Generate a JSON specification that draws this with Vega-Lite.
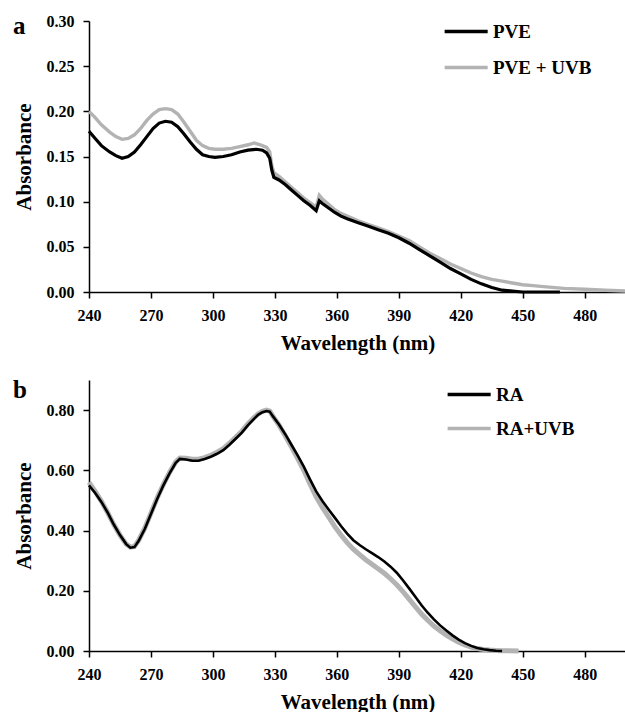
{
"$schema":"https://vega.github.io/schema/vega-lite/v6.json",
"padding":{"left":13,"top":13,"right":0,"bottom":0},
"background":"white",
"spacing":25,
"config":{
 "view":{"stroke":null},
 "axis":{"grid":false,"domainColor":"black","domainWidth":1.5,"tickColor":"black","tickWidth":1.5,"tickSize":6,
  "labelFont":"Liberation Serif","labelFontWeight":"bold","labelFontSize":16,"labelColor":"black","labelPadding":9,"labelFlush":false,
  "titleFont":"Liberation Serif","titleFontWeight":"bold","titleFontSize":21,"titleColor":"black"},
 "axisX":{"titlePadding":9},
 "axisY":{"titlePadding":12},
 "legend":{"orient":"none","title":null,"symbolType":"M-5,0H1","symbolSize":206,"symbolStrokeWidth":3.5,
  "labelFont":"Liberation Serif","labelFontWeight":"bold","labelFontSize":19,"labelColor":"black","labelOffset":3,"padding":0},
 "title":{"font":"Liberation Serif","fontWeight":"bold","fontSize":25,"color":"black","anchor":"start","frame":"bounds","offset":0}
},
"resolve":{"scale":{"color":"independent"},"legend":{"color":"independent"}},
"datasets":{
"a":[
{"wavelength":240,"absorbance":0.178,"series":"PVE"},{"wavelength":243,"absorbance":0.170,"series":"PVE"},{"wavelength":246,"absorbance":0.162,"series":"PVE"},{"wavelength":250,"absorbance":0.155,"series":"PVE"},{"wavelength":253,"absorbance":0.151,"series":"PVE"},{"wavelength":256,"absorbance":0.148,"series":"PVE"},{"wavelength":259,"absorbance":0.150,"series":"PVE"},{"wavelength":262,"absorbance":0.155,"series":"PVE"},{"wavelength":265,"absorbance":0.163,"series":"PVE"},{"wavelength":268,"absorbance":0.172,"series":"PVE"},{"wavelength":271,"absorbance":0.181,"series":"PVE"},{"wavelength":274,"absorbance":0.187,"series":"PVE"},{"wavelength":277,"absorbance":0.189,"series":"PVE"},{"wavelength":280,"absorbance":0.188,"series":"PVE"},{"wavelength":283,"absorbance":0.183,"series":"PVE"},{"wavelength":286,"absorbance":0.175,"series":"PVE"},{"wavelength":289,"absorbance":0.166,"series":"PVE"},{"wavelength":292,"absorbance":0.158,"series":"PVE"},{"wavelength":295,"absorbance":0.152,"series":"PVE"},{"wavelength":298,"absorbance":0.150,"series":"PVE"},{"wavelength":301,"absorbance":0.149,"series":"PVE"},{"wavelength":305,"absorbance":0.150,"series":"PVE"},{"wavelength":309,"absorbance":0.152,"series":"PVE"},{"wavelength":313,"absorbance":0.155,"series":"PVE"},{"wavelength":317,"absorbance":0.157,"series":"PVE"},{"wavelength":321,"absorbance":0.158,"series":"PVE"},{"wavelength":324,"absorbance":0.157,"series":"PVE"},{"wavelength":326,"absorbance":0.154,"series":"PVE"},{"wavelength":327.5,"absorbance":0.148,"series":"PVE"},{"wavelength":328.5,"absorbance":0.135,"series":"PVE"},{"wavelength":329.5,"absorbance":0.127,"series":"PVE"},{"wavelength":332,"absorbance":0.124,"series":"PVE"},{"wavelength":335,"absorbance":0.119,"series":"PVE"},{"wavelength":338,"absorbance":0.113,"series":"PVE"},{"wavelength":341,"absorbance":0.107,"series":"PVE"},{"wavelength":344,"absorbance":0.101,"series":"PVE"},{"wavelength":347,"absorbance":0.096,"series":"PVE"},{"wavelength":350,"absorbance":0.090,"series":"PVE"},{"wavelength":351.5,"absorbance":0.101,"series":"PVE"},{"wavelength":353,"absorbance":0.098,"series":"PVE"},{"wavelength":356,"absorbance":0.093,"series":"PVE"},{"wavelength":359,"absorbance":0.088,"series":"PVE"},{"wavelength":362,"absorbance":0.084,"series":"PVE"},{"wavelength":365,"absorbance":0.081,"series":"PVE"},{"wavelength":370,"absorbance":0.077,"series":"PVE"},{"wavelength":375,"absorbance":0.073,"series":"PVE"},{"wavelength":380,"absorbance":0.069,"series":"PVE"},{"wavelength":385,"absorbance":0.065,"series":"PVE"},{"wavelength":390,"absorbance":0.060,"series":"PVE"},{"wavelength":395,"absorbance":0.054,"series":"PVE"},{"wavelength":400,"absorbance":0.047,"series":"PVE"},{"wavelength":405,"absorbance":0.040,"series":"PVE"},{"wavelength":410,"absorbance":0.033,"series":"PVE"},{"wavelength":415,"absorbance":0.026,"series":"PVE"},{"wavelength":420,"absorbance":0.020,"series":"PVE"},{"wavelength":425,"absorbance":0.014,"series":"PVE"},{"wavelength":430,"absorbance":0.009,"series":"PVE"},{"wavelength":435,"absorbance":0.005,"series":"PVE"},{"wavelength":440,"absorbance":0.002,"series":"PVE"},{"wavelength":445,"absorbance":0.001,"series":"PVE"},{"wavelength":450,"absorbance":0.000,"series":"PVE"},{"wavelength":468,"absorbance":0.000,"series":"PVE"},
{"wavelength":240,"absorbance":0.200,"series":"PVE + UVB"},{"wavelength":243,"absorbance":0.193,"series":"PVE + UVB"},{"wavelength":246,"absorbance":0.185,"series":"PVE + UVB"},{"wavelength":250,"absorbance":0.177,"series":"PVE + UVB"},{"wavelength":253,"absorbance":0.172,"series":"PVE + UVB"},{"wavelength":256,"absorbance":0.169,"series":"PVE + UVB"},{"wavelength":259,"absorbance":0.170,"series":"PVE + UVB"},{"wavelength":262,"absorbance":0.174,"series":"PVE + UVB"},{"wavelength":265,"absorbance":0.181,"series":"PVE + UVB"},{"wavelength":268,"absorbance":0.190,"series":"PVE + UVB"},{"wavelength":271,"absorbance":0.197,"series":"PVE + UVB"},{"wavelength":274,"absorbance":0.202,"series":"PVE + UVB"},{"wavelength":277,"absorbance":0.203,"series":"PVE + UVB"},{"wavelength":280,"absorbance":0.202,"series":"PVE + UVB"},{"wavelength":283,"absorbance":0.197,"series":"PVE + UVB"},{"wavelength":286,"absorbance":0.188,"series":"PVE + UVB"},{"wavelength":289,"absorbance":0.178,"series":"PVE + UVB"},{"wavelength":292,"absorbance":0.168,"series":"PVE + UVB"},{"wavelength":295,"absorbance":0.162,"series":"PVE + UVB"},{"wavelength":298,"absorbance":0.159,"series":"PVE + UVB"},{"wavelength":301,"absorbance":0.158,"series":"PVE + UVB"},{"wavelength":305,"absorbance":0.158,"series":"PVE + UVB"},{"wavelength":309,"absorbance":0.159,"series":"PVE + UVB"},{"wavelength":313,"absorbance":0.161,"series":"PVE + UVB"},{"wavelength":317,"absorbance":0.163,"series":"PVE + UVB"},{"wavelength":320,"absorbance":0.165,"series":"PVE + UVB"},{"wavelength":323,"absorbance":0.163,"series":"PVE + UVB"},{"wavelength":326,"absorbance":0.160,"series":"PVE + UVB"},{"wavelength":327.5,"absorbance":0.155,"series":"PVE + UVB"},{"wavelength":328.5,"absorbance":0.140,"series":"PVE + UVB"},{"wavelength":329.5,"absorbance":0.132,"series":"PVE + UVB"},{"wavelength":332,"absorbance":0.128,"series":"PVE + UVB"},{"wavelength":335,"absorbance":0.122,"series":"PVE + UVB"},{"wavelength":338,"absorbance":0.116,"series":"PVE + UVB"},{"wavelength":341,"absorbance":0.110,"series":"PVE + UVB"},{"wavelength":344,"absorbance":0.104,"series":"PVE + UVB"},{"wavelength":347,"absorbance":0.099,"series":"PVE + UVB"},{"wavelength":350,"absorbance":0.094,"series":"PVE + UVB"},{"wavelength":351.5,"absorbance":0.107,"series":"PVE + UVB"},{"wavelength":353,"absorbance":0.103,"series":"PVE + UVB"},{"wavelength":356,"absorbance":0.097,"series":"PVE + UVB"},{"wavelength":359,"absorbance":0.091,"series":"PVE + UVB"},{"wavelength":362,"absorbance":0.087,"series":"PVE + UVB"},{"wavelength":365,"absorbance":0.084,"series":"PVE + UVB"},{"wavelength":370,"absorbance":0.079,"series":"PVE + UVB"},{"wavelength":375,"absorbance":0.075,"series":"PVE + UVB"},{"wavelength":380,"absorbance":0.071,"series":"PVE + UVB"},{"wavelength":385,"absorbance":0.067,"series":"PVE + UVB"},{"wavelength":390,"absorbance":0.062,"series":"PVE + UVB"},{"wavelength":395,"absorbance":0.057,"series":"PVE + UVB"},{"wavelength":400,"absorbance":0.050,"series":"PVE + UVB"},{"wavelength":405,"absorbance":0.043,"series":"PVE + UVB"},{"wavelength":410,"absorbance":0.037,"series":"PVE + UVB"},{"wavelength":415,"absorbance":0.031,"series":"PVE + UVB"},{"wavelength":420,"absorbance":0.026,"series":"PVE + UVB"},{"wavelength":425,"absorbance":0.021,"series":"PVE + UVB"},{"wavelength":430,"absorbance":0.017,"series":"PVE + UVB"},{"wavelength":435,"absorbance":0.014,"series":"PVE + UVB"},{"wavelength":440,"absorbance":0.012,"series":"PVE + UVB"},{"wavelength":445,"absorbance":0.010,"series":"PVE + UVB"},{"wavelength":450,"absorbance":0.008,"series":"PVE + UVB"},{"wavelength":455,"absorbance":0.007,"series":"PVE + UVB"},{"wavelength":460,"absorbance":0.006,"series":"PVE + UVB"},{"wavelength":470,"absorbance":0.004,"series":"PVE + UVB"},{"wavelength":480,"absorbance":0.003,"series":"PVE + UVB"},{"wavelength":490,"absorbance":0.002,"series":"PVE + UVB"},{"wavelength":500,"absorbance":0.001,"series":"PVE + UVB"}
],
"b":[
{"wavelength":240,"absorbance":0.550,"series":"RA"},{"wavelength":243,"absorbance":0.525,"series":"RA"},{"wavelength":246,"absorbance":0.495,"series":"RA"},{"wavelength":249,"absorbance":0.460,"series":"RA"},{"wavelength":252,"absorbance":0.420,"series":"RA"},{"wavelength":255,"absorbance":0.385,"series":"RA"},{"wavelength":258,"absorbance":0.355,"series":"RA"},{"wavelength":260,"absorbance":0.343,"series":"RA"},{"wavelength":262,"absorbance":0.345,"series":"RA"},{"wavelength":264,"absorbance":0.365,"series":"RA"},{"wavelength":267,"absorbance":0.405,"series":"RA"},{"wavelength":270,"absorbance":0.455,"series":"RA"},{"wavelength":273,"absorbance":0.505,"series":"RA"},{"wavelength":276,"absorbance":0.550,"series":"RA"},{"wavelength":279,"absorbance":0.590,"series":"RA"},{"wavelength":282,"absorbance":0.625,"series":"RA"},{"wavelength":284,"absorbance":0.638,"series":"RA"},{"wavelength":287,"absorbance":0.636,"series":"RA"},{"wavelength":290,"absorbance":0.632,"series":"RA"},{"wavelength":293,"absorbance":0.632,"series":"RA"},{"wavelength":296,"absorbance":0.638,"series":"RA"},{"wavelength":299,"absorbance":0.645,"series":"RA"},{"wavelength":302,"absorbance":0.655,"series":"RA"},{"wavelength":305,"absorbance":0.667,"series":"RA"},{"wavelength":308,"absorbance":0.685,"series":"RA"},{"wavelength":311,"absorbance":0.705,"series":"RA"},{"wavelength":314,"absorbance":0.725,"series":"RA"},{"wavelength":317,"absorbance":0.750,"series":"RA"},{"wavelength":320,"absorbance":0.772,"series":"RA"},{"wavelength":322,"absorbance":0.785,"series":"RA"},{"wavelength":324,"absorbance":0.793,"series":"RA"},{"wavelength":326,"absorbance":0.797,"series":"RA"},{"wavelength":327.5,"absorbance":0.795,"series":"RA"},{"wavelength":329,"absorbance":0.780,"series":"RA"},{"wavelength":332,"absorbance":0.752,"series":"RA"},{"wavelength":335,"absorbance":0.720,"series":"RA"},{"wavelength":338,"absorbance":0.685,"series":"RA"},{"wavelength":341,"absorbance":0.650,"series":"RA"},{"wavelength":344,"absorbance":0.612,"series":"RA"},{"wavelength":347,"absorbance":0.570,"series":"RA"},{"wavelength":350,"absorbance":0.530,"series":"RA"},{"wavelength":353,"absorbance":0.498,"series":"RA"},{"wavelength":356,"absorbance":0.470,"series":"RA"},{"wavelength":359,"absorbance":0.443,"series":"RA"},{"wavelength":362,"absorbance":0.415,"series":"RA"},{"wavelength":365,"absorbance":0.390,"series":"RA"},{"wavelength":368,"absorbance":0.368,"series":"RA"},{"wavelength":371,"absorbance":0.352,"series":"RA"},{"wavelength":374,"absorbance":0.338,"series":"RA"},{"wavelength":377,"absorbance":0.325,"series":"RA"},{"wavelength":380,"absorbance":0.312,"series":"RA"},{"wavelength":383,"absorbance":0.297,"series":"RA"},{"wavelength":386,"absorbance":0.280,"series":"RA"},{"wavelength":389,"absorbance":0.260,"series":"RA"},{"wavelength":392,"absorbance":0.235,"series":"RA"},{"wavelength":395,"absorbance":0.208,"series":"RA"},{"wavelength":398,"absorbance":0.180,"series":"RA"},{"wavelength":401,"absorbance":0.152,"series":"RA"},{"wavelength":404,"absorbance":0.127,"series":"RA"},{"wavelength":407,"absorbance":0.105,"series":"RA"},{"wavelength":410,"absorbance":0.085,"series":"RA"},{"wavelength":413,"absorbance":0.068,"series":"RA"},{"wavelength":416,"absorbance":0.052,"series":"RA"},{"wavelength":419,"absorbance":0.038,"series":"RA"},{"wavelength":422,"absorbance":0.026,"series":"RA"},{"wavelength":425,"absorbance":0.017,"series":"RA"},{"wavelength":428,"absorbance":0.010,"series":"RA"},{"wavelength":431,"absorbance":0.006,"series":"RA"},{"wavelength":434,"absorbance":0.003,"series":"RA"},{"wavelength":437,"absorbance":0.001,"series":"RA"},{"wavelength":440,"absorbance":0.000,"series":"RA"},
{"wavelength":240,"absorbance":0.560,"series":"RA+UVB"},{"wavelength":243,"absorbance":0.530,"series":"RA+UVB"},{"wavelength":246,"absorbance":0.497,"series":"RA+UVB"},{"wavelength":249,"absorbance":0.460,"series":"RA+UVB"},{"wavelength":252,"absorbance":0.420,"series":"RA+UVB"},{"wavelength":255,"absorbance":0.385,"series":"RA+UVB"},{"wavelength":258,"absorbance":0.355,"series":"RA+UVB"},{"wavelength":260,"absorbance":0.345,"series":"RA+UVB"},{"wavelength":262,"absorbance":0.347,"series":"RA+UVB"},{"wavelength":264,"absorbance":0.367,"series":"RA+UVB"},{"wavelength":267,"absorbance":0.408,"series":"RA+UVB"},{"wavelength":270,"absorbance":0.458,"series":"RA+UVB"},{"wavelength":273,"absorbance":0.508,"series":"RA+UVB"},{"wavelength":276,"absorbance":0.553,"series":"RA+UVB"},{"wavelength":279,"absorbance":0.593,"series":"RA+UVB"},{"wavelength":282,"absorbance":0.628,"series":"RA+UVB"},{"wavelength":284,"absorbance":0.641,"series":"RA+UVB"},{"wavelength":287,"absorbance":0.640,"series":"RA+UVB"},{"wavelength":290,"absorbance":0.637,"series":"RA+UVB"},{"wavelength":293,"absorbance":0.637,"series":"RA+UVB"},{"wavelength":296,"absorbance":0.642,"series":"RA+UVB"},{"wavelength":299,"absorbance":0.650,"series":"RA+UVB"},{"wavelength":302,"absorbance":0.660,"series":"RA+UVB"},{"wavelength":305,"absorbance":0.672,"series":"RA+UVB"},{"wavelength":308,"absorbance":0.690,"series":"RA+UVB"},{"wavelength":311,"absorbance":0.710,"series":"RA+UVB"},{"wavelength":314,"absorbance":0.730,"series":"RA+UVB"},{"wavelength":317,"absorbance":0.755,"series":"RA+UVB"},{"wavelength":320,"absorbance":0.776,"series":"RA+UVB"},{"wavelength":322,"absorbance":0.788,"series":"RA+UVB"},{"wavelength":324,"absorbance":0.796,"series":"RA+UVB"},{"wavelength":326,"absorbance":0.800,"series":"RA+UVB"},{"wavelength":327.5,"absorbance":0.797,"series":"RA+UVB"},{"wavelength":329,"absorbance":0.780,"series":"RA+UVB"},{"wavelength":332,"absorbance":0.750,"series":"RA+UVB"},{"wavelength":335,"absorbance":0.715,"series":"RA+UVB"},{"wavelength":338,"absorbance":0.678,"series":"RA+UVB"},{"wavelength":341,"absorbance":0.640,"series":"RA+UVB"},{"wavelength":344,"absorbance":0.600,"series":"RA+UVB"},{"wavelength":347,"absorbance":0.555,"series":"RA+UVB"},{"wavelength":350,"absorbance":0.512,"series":"RA+UVB"},{"wavelength":353,"absorbance":0.477,"series":"RA+UVB"},{"wavelength":356,"absorbance":0.445,"series":"RA+UVB"},{"wavelength":359,"absorbance":0.413,"series":"RA+UVB"},{"wavelength":362,"absorbance":0.385,"series":"RA+UVB"},{"wavelength":365,"absorbance":0.360,"series":"RA+UVB"},{"wavelength":368,"absorbance":0.338,"series":"RA+UVB"},{"wavelength":371,"absorbance":0.320,"series":"RA+UVB"},{"wavelength":374,"absorbance":0.303,"series":"RA+UVB"},{"wavelength":377,"absorbance":0.288,"series":"RA+UVB"},{"wavelength":380,"absorbance":0.273,"series":"RA+UVB"},{"wavelength":383,"absorbance":0.258,"series":"RA+UVB"},{"wavelength":386,"absorbance":0.240,"series":"RA+UVB"},{"wavelength":389,"absorbance":0.220,"series":"RA+UVB"},{"wavelength":392,"absorbance":0.197,"series":"RA+UVB"},{"wavelength":395,"absorbance":0.172,"series":"RA+UVB"},{"wavelength":398,"absorbance":0.147,"series":"RA+UVB"},{"wavelength":401,"absorbance":0.123,"series":"RA+UVB"},{"wavelength":404,"absorbance":0.102,"series":"RA+UVB"},{"wavelength":407,"absorbance":0.083,"series":"RA+UVB"},{"wavelength":410,"absorbance":0.067,"series":"RA+UVB"},{"wavelength":413,"absorbance":0.053,"series":"RA+UVB"},{"wavelength":416,"absorbance":0.040,"series":"RA+UVB"},{"wavelength":419,"absorbance":0.029,"series":"RA+UVB"},{"wavelength":422,"absorbance":0.020,"series":"RA+UVB"},{"wavelength":425,"absorbance":0.013,"series":"RA+UVB"},{"wavelength":428,"absorbance":0.008,"series":"RA+UVB"},{"wavelength":431,"absorbance":0.005,"series":"RA+UVB"},{"wavelength":434,"absorbance":0.003,"series":"RA+UVB"},{"wavelength":437,"absorbance":0.002,"series":"RA+UVB"},{"wavelength":440,"absorbance":0.001,"series":"RA+UVB"},{"wavelength":448,"absorbance":0.000,"series":"RA+UVB"}
]
},
"vconcat":[
{
 "width":537,"height":271,
 "title":{"text":"a","dy":30},
 "data":{"name":"a"},
 "encoding":{
  "x":{"field":"wavelength","type":"quantitative","scale":{"domain":[240,500],"nice":false,"zero":false},"axis":{"values":[240,270,300,330,360,390,420,450,480],"format":"d","title":"Wavelength (nm)"}},
  "y":{"field":"absorbance","type":"quantitative","scale":{"domain":[0,0.30],"nice":false},"axis":{"values":[0,0.05,0.10,0.15,0.20,0.25,0.30],"format":".2f","title":"Absorbance"}},
  "color":{"field":"series","type":"nominal","scale":{"domain":["PVE","PVE + UVB"],"range":["#000000","#b3b3b3"]},"legend":{"legendX":382,"legendY":1,"rowPadding":16}}
 },
 "layer":[
  {"transform":[{"filter":"datum.series == 'PVE + UVB'"}],"mark":{"type":"line","strokeWidth":3.4}},
  {"transform":[{"filter":"datum.series == 'PVE'"}],"mark":{"type":"line","strokeWidth":3.2}}
 ]
},
{
 "width":537,"height":271,
 "title":{"text":"b","dy":27},
 "data":{"name":"b"},
 "encoding":{
  "x":{"field":"wavelength","type":"quantitative","scale":{"domain":[240,500],"nice":false,"zero":false},"axis":{"values":[240,270,300,330,360,390,420,450,480],"format":"d","title":"Wavelength (nm)"}},
  "y":{"field":"absorbance","type":"quantitative","scale":{"domain":[0,0.90],"nice":false},"axis":{"values":[0,0.2,0.4,0.6,0.8],"format":".2f","title":"Absorbance"}},
  "color":{"field":"series","type":"nominal","scale":{"domain":["RA","RA+UVB"],"range":["#000000","#b3b3b3"]},"legend":{"legendX":385,"legendY":5,"rowPadding":14}}
 },
 "layer":[
  {"transform":[{"filter":"datum.series == 'RA+UVB'"}],"mark":{"type":"line","strokeWidth":5}},
  {"transform":[{"filter":"datum.series == 'RA'"}],"mark":{"type":"line","strokeWidth":2.6}}
 ]
}
]
}
